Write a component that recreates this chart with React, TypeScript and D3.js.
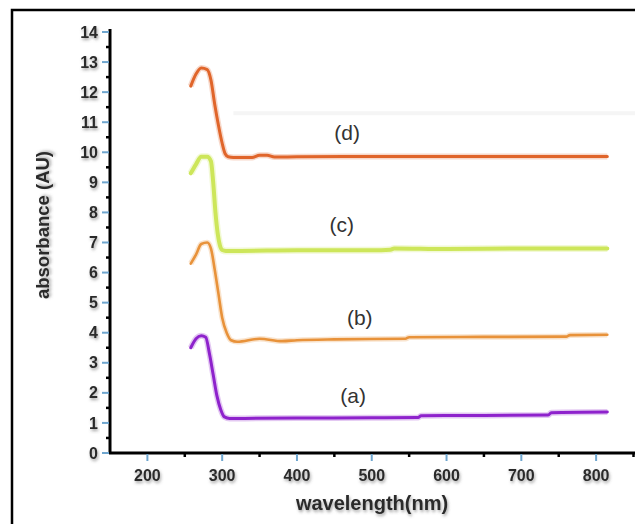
import React, { useEffect, useRef } from "react";
import * as d3 from "d3";

// spectra (wavelength in nm, absorbance in AU)
const wlA = [258, 265, 272, 278, 283, 288, 293, 298, 303, 310, 330, 400, 500, 562, 566, 650, 736, 740, 815];
const absA = [3.5, 3.8, 3.9, 3.85, 3.3, 2.6, 1.9, 1.45, 1.2, 1.15, 1.15, 1.16, 1.17, 1.18, 1.24, 1.25, 1.26, 1.34, 1.36];

const wlB = [258, 265, 272, 280, 285, 290, 295, 300, 306, 312, 320, 350, 380, 400, 450, 545, 550, 650, 760, 765, 815];
const absB = [6.3, 6.6, 6.95, 7.0, 6.8, 6.1, 5.3, 4.5, 4.0, 3.75, 3.7, 3.8, 3.72, 3.75, 3.78, 3.8, 3.85, 3.86, 3.87, 3.92, 3.93];

const wlC = [258, 265, 272, 280, 285, 288, 291, 294, 297, 300, 305, 320, 400, 500, 525, 530, 600, 700, 815];
const absC = [9.3, 9.6, 9.85, 9.85, 9.7, 9.0, 8.0, 7.3, 6.9, 6.75, 6.72, 6.72, 6.74, 6.74, 6.76, 6.8, 6.78, 6.8, 6.8];

const wlD = [258, 265, 272, 280, 285, 290, 295, 300, 304, 308, 315, 340, 350, 360, 370, 400, 500, 600, 700, 815];
const absD = [12.2, 12.6, 12.8, 12.75, 12.4, 11.6, 10.9, 10.3, 9.95, 9.85, 9.83, 9.83, 9.9, 9.9, 9.84, 9.85, 9.86, 9.86, 9.86, 9.86];

const seriesNames = ["(a)", "(b)", "(c)", "(d)"];
const seriesColors = ["#8e22cc", "#e8923a", "#cde65a", "#e0652a"];
const seriesWidths = [3, 2.6, 4, 3];
// where the (x) labels sit, in data units
const labelWl = [475, 484, 460, 467];
const labelAbs = [1.9, 4.5, 7.6, 10.65];

const xTicks = [200, 300, 400, 500, 600, 700, 800];
const yTicks = d3.range(0, 15);

const App = () => {
  const ref = useRef<SVGSVGElement>(null);

  useEffect(() => {
    const svg = d3.select(ref.current);
    svg.selectAll("*").remove();

    const width = 635;
    const height = 524;
    svg.attr("width", width).attr("height", height);

    const x = d3.scaleLinear().domain([150, 852]).range([110, 635]);
    const y = d3.scaleLinear().domain([0, 14]).range([453, 32]);

    const defs = svg.append("defs");
    const shadow = defs.append("filter").attr("id", "blurShadow")
      .attr("x", "-20%").attr("y", "-20%").attr("width", "140%").attr("height", "160%");
    shadow.append("feDropShadow")
      .attr("dx", 1).attr("dy", 2).attr("stdDeviation", 1.6)
      .attr("flood-color", "#555").attr("flood-opacity", 0.55);

    svg.append("rect").attr("width", width).attr("height", height).attr("fill", "#fff");

    // outer frame (runs off the right and bottom)
    svg.append("rect")
      .attr("x", 12).attr("y", 10).attr("width", 700).attr("height", 600)
      .attr("fill", "none").attr("stroke", "#000").attr("stroke-width", 2.5);

    // faint grey band
    svg.append("line")
      .attr("x1", x(315)).attr("x2", width)
      .attr("y1", y(11.3)).attr("y2", y(11.3))
      .attr("stroke", "#f5f5f5").attr("stroke-width", 4);

    const line = d3.line<[number, number]>()
      .x((d) => x(d[0]))
      .y((d) => y(d[1]))
      .curve(d3.curveMonotoneX);

    const allWl = [wlA, wlB, wlC, wlD];
    const allAbs = [absA, absB, absC, absD];

    allWl.forEach((wl, i) => {
      const pts = wl.map((w, j) => [w, allAbs[i][j]] as [number, number]);
      // soft halo under each trace
      svg.append("path")
        .attr("d", line(pts))
        .attr("fill", "none")
        .attr("stroke", seriesColors[i])
        .attr("stroke-opacity", 0.25)
        .attr("stroke-width", seriesWidths[i] + 3)
        .attr("stroke-linejoin", "round");
      svg.append("path")
        .attr("d", line(pts))
        .attr("fill", "none")
        .attr("stroke", seriesColors[i])
        .attr("stroke-width", seriesWidths[i])
        .attr("stroke-linejoin", "round")
        .attr("stroke-linecap", "round");
    });

    // series labels
    svg.selectAll(".slabel")
      .data(seriesNames)
      .enter()
      .append("text")
      .attr("class", "slabel")
      .attr("x", (d, i) => x(labelWl[i]))
      .attr("y", (d, i) => y(labelAbs[i]))
      .attr("text-anchor", "middle")
      .attr("dy", "0.35em")
      .style("font-family", "'Liberation Sans', Arial, sans-serif")
      .style("font-size", "21px")
      .style("fill", "#333")
      .text((d) => d);

    // axes
    const axisG = svg.append("g");
    axisG.append("line")
      .attr("x1", 110).attr("x2", 110).attr("y1", y(14) - 3).attr("y2", y(0))
      .attr("stroke", "#000").attr("stroke-width", 3);
    axisG.append("line")
      .attr("x1", 109).attr("x2", width).attr("y1", y(0)).attr("y2", y(0))
      .attr("stroke", "#000").attr("stroke-width", 3);

    // minor ticks: black dots
    axisG.selectAll(".ymin")
      .data(d3.range(0.5, 14, 1))
      .enter()
      .append("line")
      .attr("x1", 106).attr("x2", 110)
      .attr("y1", (d) => y(d)).attr("y2", (d) => y(d))
      .attr("stroke", "#000").attr("stroke-width", 2.5);
    axisG.selectAll(".xmin")
      .data(d3.range(250, 852, 100))
      .enter()
      .append("line")
      .attr("x1", (d) => x(d)).attr("x2", (d) => x(d))
      .attr("y1", y(0)).attr("y2", y(0) + 4)
      .attr("stroke", "#000").attr("stroke-width", 2.5);

    // major ticks: light blue
    axisG.selectAll(".ymaj")
      .data(yTicks)
      .enter()
      .append("line")
      .attr("x1", 102).attr("x2", 109)
      .attr("y1", (d) => y(d)).attr("y2", (d) => y(d))
      .attr("stroke", "#6fa6cf").attr("stroke-width", 2);
    axisG.selectAll(".xmaj")
      .data(xTicks)
      .enter()
      .append("line")
      .attr("x1", (d) => x(d)).attr("x2", (d) => x(d))
      .attr("y1", y(0) + 1).attr("y2", y(0) + 8)
      .attr("stroke", "#6fa6cf").attr("stroke-width", 2);

    const tickFont = (sel: any) =>
      sel.style("font-family", "'Liberation Sans', Arial, sans-serif")
        .style("font-size", "16px")
        .style("font-weight", "bold")
        .style("fill", "#2a2a2a")
        .attr("filter", "url(#blurShadow)");

    axisG.selectAll(".ylab")
      .data(yTicks)
      .enter()
      .append("text")
      .attr("x", 98)
      .attr("y", (d) => y(d))
      .attr("dy", "0.35em")
      .attr("text-anchor", "end")
      .text((d) => d)
      .call(tickFont);

    axisG.selectAll(".xlab")
      .data(xTicks)
      .enter()
      .append("text")
      .attr("x", (d) => x(d))
      .attr("y", 481)
      .attr("text-anchor", "middle")
      .text((d) => d)
      .call(tickFont);

    svg.append("text")
      .attr("x", 372).attr("y", 510)
      .attr("text-anchor", "middle")
      .style("font-family", "'Liberation Sans', Arial, sans-serif")
      .style("font-size", "20px")
      .style("font-weight", "bold")
      .style("fill", "#2a2a2a")
      .attr("filter", "url(#blurShadow)")
      .text("wavelength(nm)");

    svg.append("text")
      .attr("transform", "translate(49,225) rotate(-90)")
      .attr("text-anchor", "middle")
      .style("font-family", "'Liberation Sans', Arial, sans-serif")
      .style("font-size", "18.5px")
      .style("font-weight", "bold")
      .style("fill", "#2a2a2a")
      .attr("filter", "url(#blurShadow)")
      .text("absorbance (AU)");
  }, []);

  return <svg ref={ref} style={{ position: "absolute", left: 0, top: 0 }}></svg>;
};

export default App;
